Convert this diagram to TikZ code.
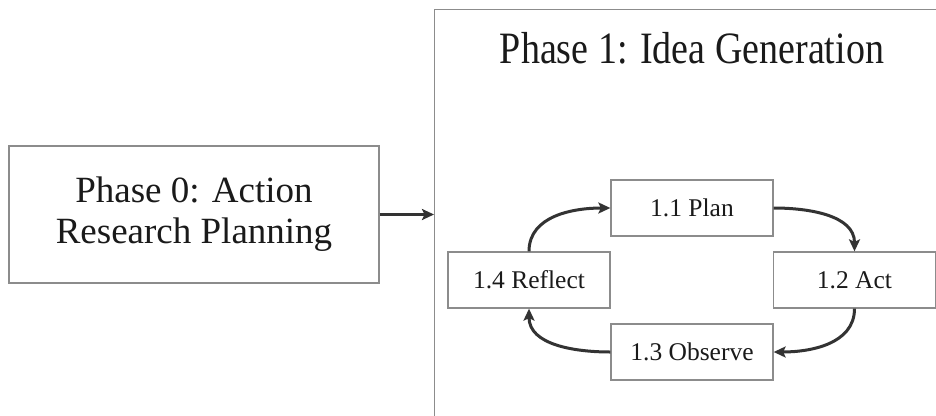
\documentclass[tikz,border=0pt]{standalone}
\usepackage{fontspec}
\setmainfont{Liberation Serif}
\usetikzlibrary{arrows.meta}
\definecolor{boxline}{HTML}{8C8C8C}
\definecolor{arrowc}{HTML}{333333}
\definecolor{txt}{HTML}{1A1A1A}
\begin{document}
\begin{tikzpicture}[x=1pt,y=-1pt,
  bigbox/.style={draw=boxline,line width=1.3pt,rectangle,inner sep=0pt,anchor=north west},
  stagebox/.style={draw=boxline,line width=1.3pt,rectangle,minimum width=162pt,minimum height=56pt,inner sep=0pt,text=txt,font=\fontsize{25.5}{30}\selectfont},
  arr/.style={draw=arrowc,line width=3pt,-{Stealth[length=12pt,width=11pt,inset=2.5pt]}}]
\useasboundingbox (0,0) rectangle (936,415);
\clip (0,0) rectangle (936,415);
\fill[white] (0,0) rectangle (936,415);
% Phase 0
\node[draw=boxline,line width=1.3pt,rectangle,minimum width=370pt,minimum height=137pt,inner sep=0pt,align=center,text=txt,font=\fontsize{37}{41}\selectfont] (p0) at (194,214.5) {Phase 0: Action\\Research Planning};
% Phase 1 big box (extends beyond the picture)
\node[bigbox,minimum width=520pt,minimum height=430pt] (p1) at (434,9) {};
\node[text=txt,font=\fontsize{38}{44}\selectfont,inner sep=0pt] (title) at (692,48) {\scalebox{1}[1.18]{Phase 1: Idea Generation}};
\draw[arr,line width=2.5pt] (p0.east) -- (p0.east -| p1.west);
% stages
\node[stagebox] (plan) at (692,208) {1.1 Plan};
\node[stagebox] (act) at (854.5,280) {1.2 Act};
\node[stagebox] (obs) at (692,352) {1.3 Observe};
\node[stagebox] (refl) at (529,280) {1.4 Reflect};
\draw[arr] (plan.east) to[out=0,in=90] (act.north);
\draw[arr] (act.south) to[out=-90,in=0] (obs.east);
\draw[arr] (obs.west) to[out=180,in=-90] (refl.south);
\draw[arr] (refl.north) to[out=90,in=180] (plan.west);
\end{tikzpicture}
\end{document}
